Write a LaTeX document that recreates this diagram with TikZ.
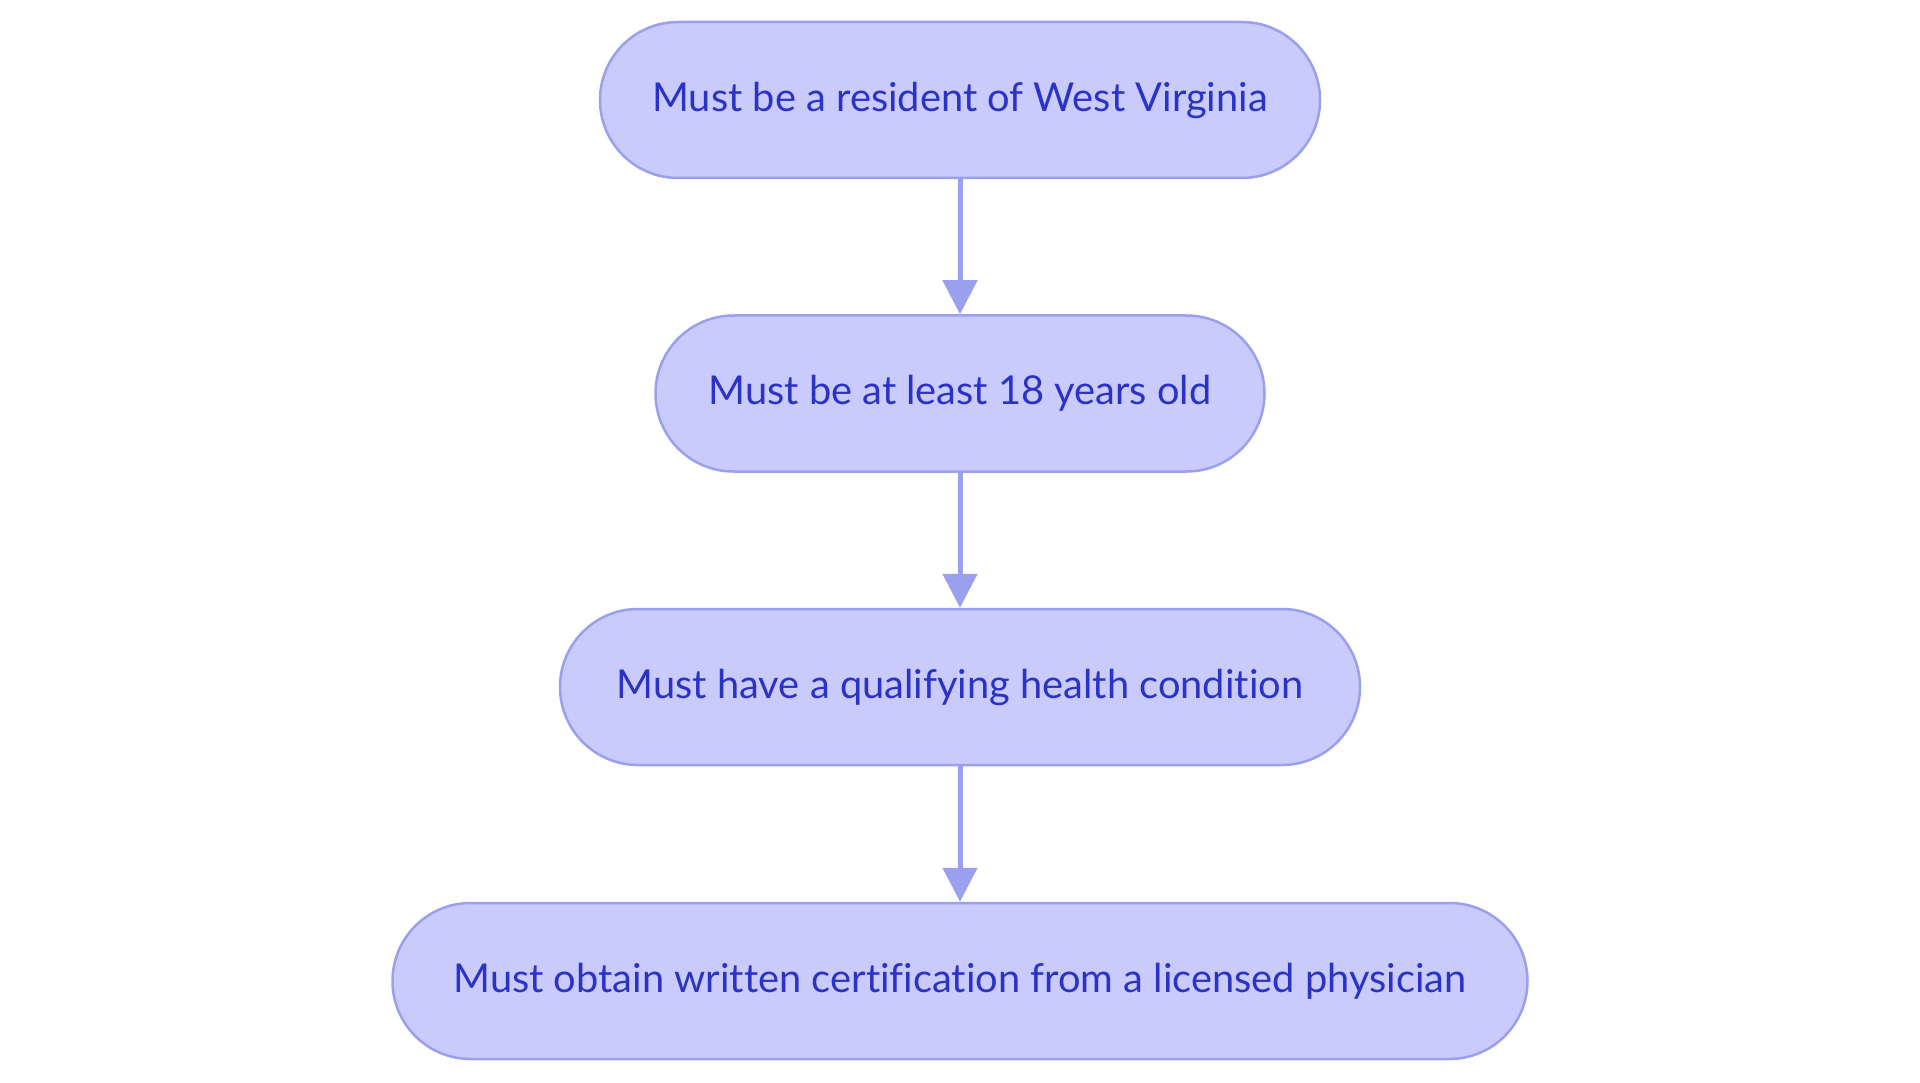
\documentclass[tikz,border=0pt]{standalone}
\usepackage{fontspec}
\setmainfont[Ligatures=NoCommon]{Lato}
\usetikzlibrary{arrows.meta}
\definecolor{nodefill}{HTML}{C9CBFC}
\definecolor{nodeline}{HTML}{9A9FEE}
\definecolor{nodetext}{HTML}{2B32C8}
\tikzset{
  stadium/.style={draw=nodeline, line width=2.5pt, fill=nodefill, rounded corners=78pt,
    minimum height=156pt, inner sep=0pt, text=nodetext,
    font=\fontsize{39.8}{46}\selectfont},
  flow/.style={draw=nodeline, line width=5pt, -{Triangle[width=34pt,length=34pt]}}
}
\begin{document}
\begin{tikzpicture}[x=1pt,y=-1pt]
\useasboundingbox (0,0) rectangle (1920,1083);
\node[stadium, minimum width=720pt] (n1) at (960,100) {Must be a resident of West Virginia};
\node[stadium, minimum width=609pt] (n2) at (960,393.5) {Must be at least 18 years old};
\node[stadium, minimum width=800pt] (n3) at (960,687) {Must have a qualifying health condition};
\node[stadium, minimum width=1135pt] (n4) at (960,981) {Must obtain written certification from a licensed physician};
\draw[flow] (n1) -- (n2);
\draw[flow] (n2) -- (n3);
\draw[flow] (n3) -- (n4);
\end{tikzpicture}
\end{document}
